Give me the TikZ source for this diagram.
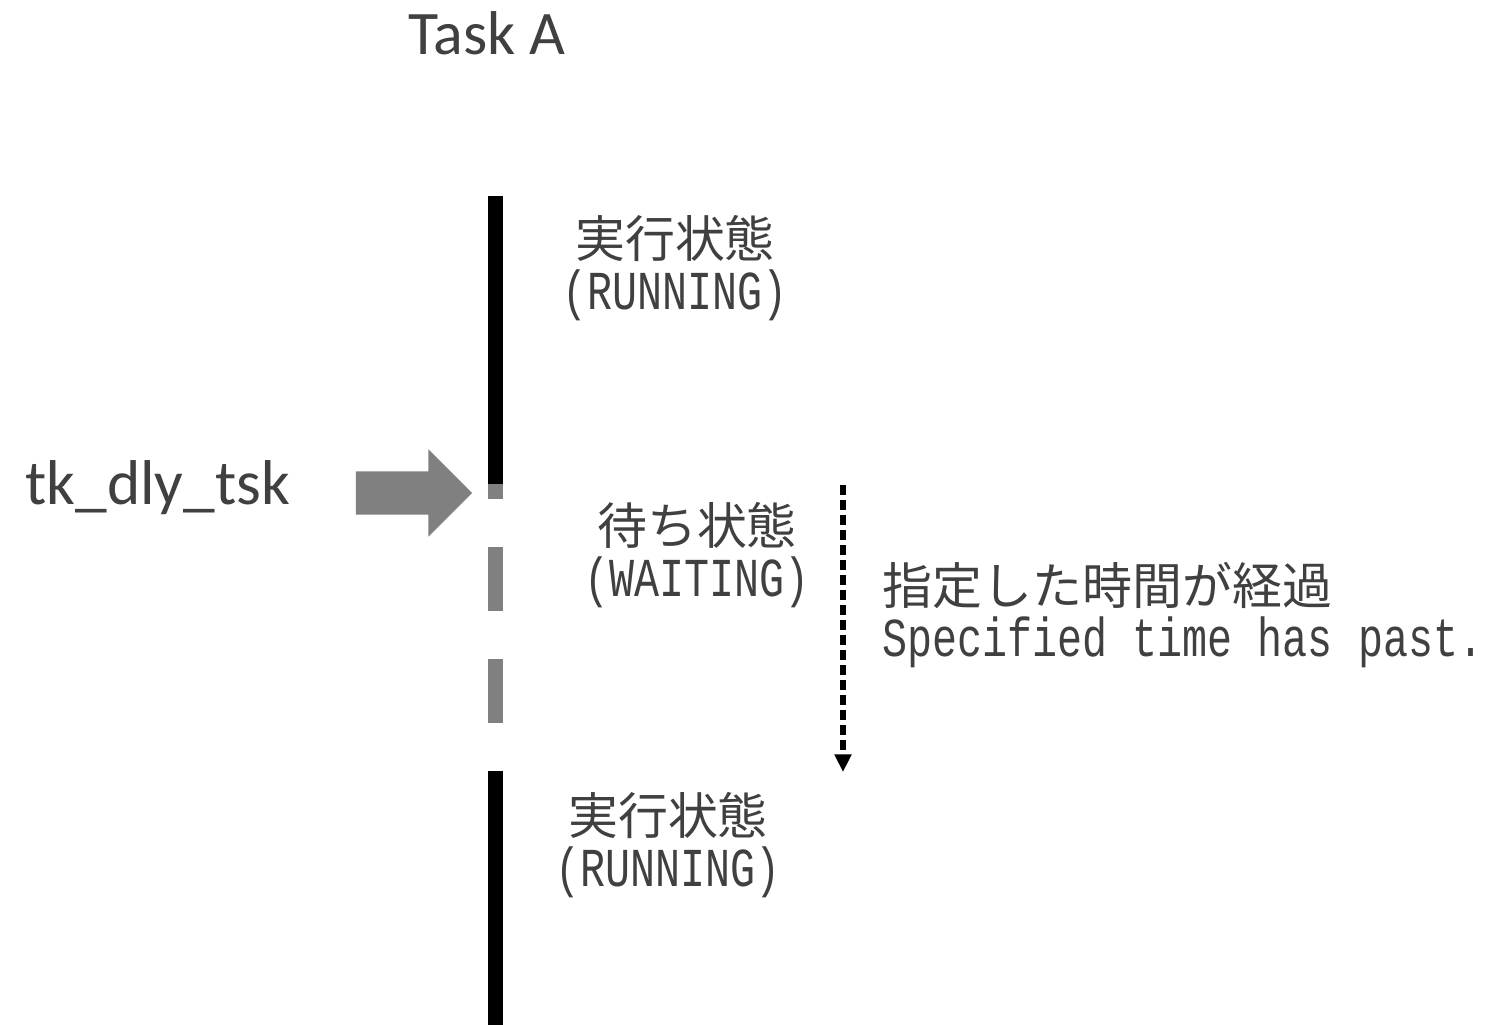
\documentclass[tikz,border=0pt]{standalone}
\usepackage{fontspec}
\setmainfont{Carlito}
\newfontfamily\jpfont{Noto Sans CJK JP}
\newfontfamily\gothmono[FakeStretch=0.76]{Liberation Mono}
\usetikzlibrary{shapes.arrows,arrows.meta}
\definecolor{textgray}{RGB}{64,64,64}
\definecolor{waitgray}{RGB}{128,128,128}

\begin{document}
\begin{tikzpicture}[x=0.01cm, y=-0.01cm,
    label/.style={text=textgray, inner sep=0, font=\fontsize{17.6}{20}\selectfont},
    state/.style={text=textgray, inner sep=0, align=center, font=\fontsize{14.2}{15}\selectfont},
    run/.style={line width=4.27pt, black},
    wait/.style={line width=4.27pt, waitgray}]
    \useasboundingbox (0,0) rectangle (1487,1025);

    \node [label, anchor=base] (title) at (487,55) {Task A};
    \node [label, anchor=base west, font=\fontsize{18}{20}\selectfont] (call) at (25,505) {tk\_dly\_tsk};
    \node [single arrow, fill=waitgray, inner xsep=0, inner ysep=0.21cm, minimum height=1.16cm, minimum width=0.86cm,
           single arrow head extend=0.22cm, single arrow tip angle=90, anchor=tip] (sys) at (473,493) {};

    \node [state] (run1) at (675,268) {{\jpfont 実行状態}\\{\gothmono\fontsize{15.6}{15}\selectfont (RUNNING)}};
    \node [state] (wait) at (697,555) {{\jpfont 待ち状態}\\{\gothmono\fontsize{15.6}{15}\selectfont (WAITING)}};
    \node [state, anchor=west, align=left] (elapse) at (882,615) {{\jpfont 指定した時間が経過}\\{\gothmono\fontsize{15.6}{15}\selectfont Specified time has past.}};
    \node [state] (run2) at (668,845) {{\jpfont 実行状態}\\{\gothmono\fontsize{15.6}{15}\selectfont (RUNNING)}};

    % task line
    \draw [run] (495.5,196) -- (495.5,484);
    \draw [wait] (495.5,484) -- (495.5,499);
    \foreach \y in {547,659}
        \draw [wait] (495.5,\y) -- ++(0,64);
    \draw [run] (495.5,771) -- (495.5,1025);

    \coordinate (t0) at (843,485);
    \coordinate (t1) at (843,772);
    \draw [line width=1.6pt, dash pattern=on 2.85pt off 1.42pt, -{Triangle[width=4.6pt, length=5pt]}] (t0) -- (t1);
\end{tikzpicture}
\end{document}
